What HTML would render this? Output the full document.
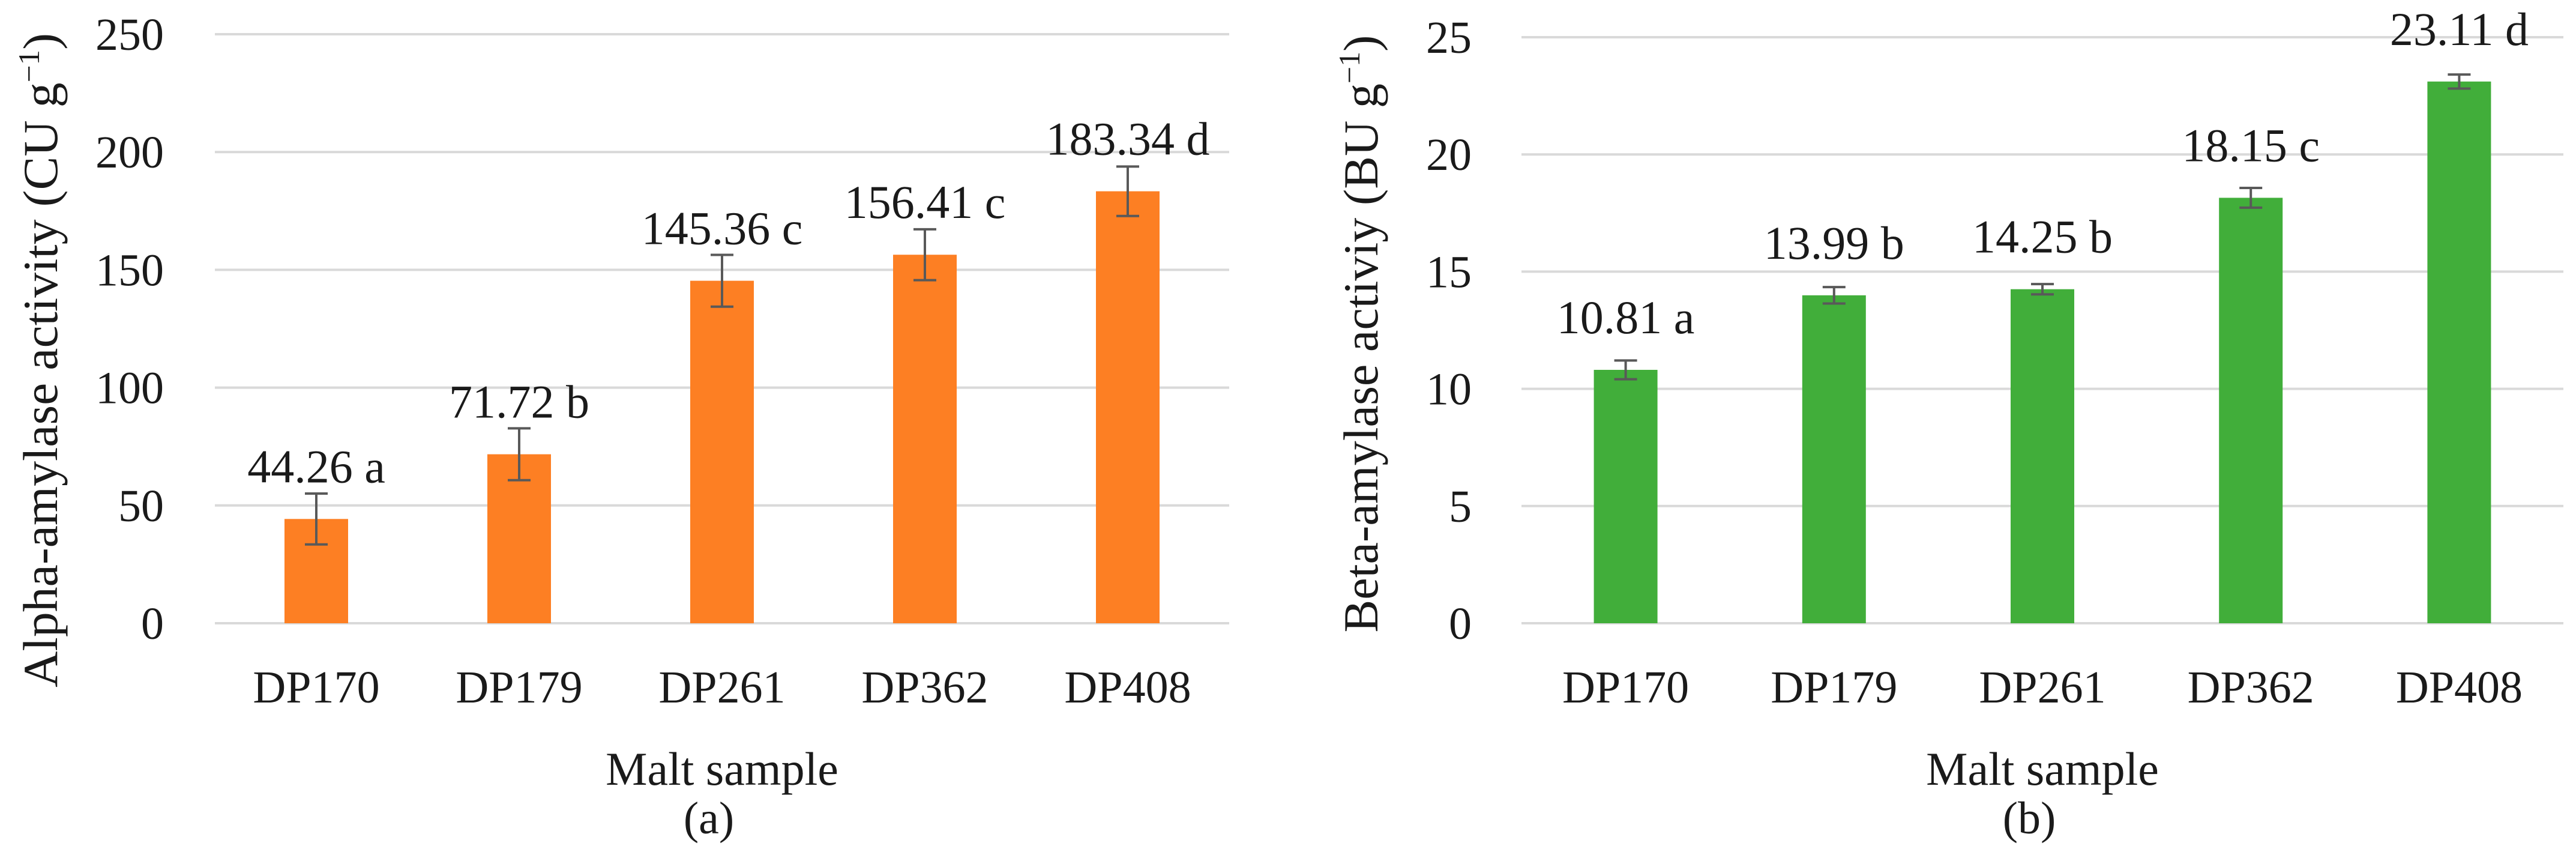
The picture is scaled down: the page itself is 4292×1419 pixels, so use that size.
<!DOCTYPE html>
<html><head><meta charset="utf-8"><style>
html,body{margin:0;padding:0;background:#fff;}
svg{display:block;}
text{font-family:"Liberation Serif","DejaVu Serif",serif;fill:#1a1a1a;}
</style></head><body>
<svg id="chart" width="4292" height="1419" viewBox="0 0 4292 1419" xmlns="http://www.w3.org/2000/svg" font-family="Liberation Serif, DejaVu Serif, serif"></svg>
<script>
const categories = ["DP170","DP179","DP261","DP362","DP408"];
const alphaValues = [44.26, 71.72, 145.36, 156.41, 183.34];
const alphaErrors = [10.8, 11, 11, 10.8, 10.5];
const alphaLetters = ["a","b","c","c","d"];
const alphaTicks = [0,50,100,150,200,250];
const betaValues = [10.81, 13.99, 14.25, 18.15, 23.11];
const betaErrors = [0.4, 0.35, 0.22, 0.42, 0.3];
const betaLetters = ["a","b","b","c","d"];
const betaTicks = [0,5,10,15,20,25];

const NS = "http://www.w3.org/2000/svg";
const svg = document.getElementById('chart');
const FONT = '"Liberation Serif", "DejaVu Serif", serif';
function mk(tag, attrs, parent){
  const e = document.createElementNS(NS, tag);
  for (const k in attrs) e.setAttribute(k, attrs[k]);
  if (tag === 'text') e.style.fontFamily = FONT;
  (parent||svg).appendChild(e);
  return e;
}

function drawPanel(cfg){
  const g = mk('g', {});
  
  
  const band = (cfg.x1 - cfg.x0) / categories.length;
  const yScale = v => cfg.y0 - (v - cfg.min) / (cfg.max - cfg.min) * (cfg.y0 - cfg.yTop);
  const xCenter = i => cfg.x0 + band * (i + 0.5);

  cfg.ticks.forEach(t => {
    const gl = mk('line', {x1:cfg.x0, x2:cfg.x1, y1:yScale(t), y2:yScale(t), stroke:'#d9d9d9', 'stroke-width':4}, g);
    
    
    const tl = mk('text', {x:cfg.tickX, y:yScale(t)+26, 'text-anchor':'end', 'font-size':76}, g);
    tl.textContent = t;
    
    
  });

  cfg.values.forEach((v, i) => {
    const cx = xCenter(i);
    const bw = 106;
    const top = yScale(v);
    const bar = mk('rect', {x:cx-bw/2, y:top, width:bw, height:yScale(cfg.min)-top, fill:cfg.color}, g);
    
    
    const eHi = yScale(v + cfg.errors[i]), eLo = yScale(v - cfg.errors[i]);
    const eb = mk('g', {stroke:'#595959', 'stroke-width':4}, g);
    
    
    mk('line', {x1:cx, x2:cx, y1:eHi, y2:eLo}, eb);
    mk('line', {x1:cx-19, x2:cx+19, y1:eHi, y2:eHi}, eb);
    mk('line', {x1:cx-19, x2:cx+19, y1:eLo, y2:eLo}, eb);
    const lbl = mk('text', {x:cx, y:top-61, 'text-anchor':'middle', 'font-size':78}, g);
    lbl.textContent = v.toFixed(2) + ' ' + cfg.letters[i];
    
    
    const xl = mk('text', {x:cx, y:1170, 'text-anchor':'middle', 'font-size':76}, g);
    xl.textContent = categories[i];
    
    
  });

  const xt = mk('text', {x:(cfg.x0+cfg.x1)/2, y:1307, 'text-anchor':'middle', 'font-size':78}, g);
  xt.textContent = 'Malt sample';
  
  
  const pl = mk('text', {x:(cfg.x0+cfg.x1)/2 - 22, y:1388, 'text-anchor':'middle', 'font-size':76}, g);
  pl.textContent = cfg.panel;
  
  

  const yt = mk('text', {x:0, y:0, 'text-anchor':'middle', 'font-size':82, textLength:cfg.titleLen, lengthAdjust:'spacingAndGlyphs',
    transform:'translate(' + cfg.titleX + ',' + cfg.titleY + ') rotate(-90)'}, g);
  
  
  yt.appendChild(document.createTextNode(cfg.title + ' g'));
  const sup = mk('tspan', {dy:-30, 'font-size':50}, yt);
  sup.textContent = '\u22121';
  const cl = mk('tspan', {dy:30}, yt);
  cl.textContent = ')';
}

drawPanel({name:'alpha-amylase-chart', x0:358, x1:2048, yTop:57, y0:1038, min:0, max:250,
  ticks:alphaTicks, values:alphaValues, errors:alphaErrors, letters:alphaLetters,
  color:'#fd7f23', tickX:273, titleX:95, titleY:600, titleLen:1090,
  title:'Alpha-amylase activity (CU', panel:'(a)'});
drawPanel({name:'beta-amylase-chart', x0:2535, x1:4271, yTop:62, y0:1038, min:0, max:25,
  ticks:betaTicks, values:betaValues, errors:betaErrors, letters:betaLetters,
  color:'#41ae3a', tickX:2452, titleX:2295, titleY:556, titleLen:995,
  title:'Beta-amylase activiy (BU', panel:'(b)'});
</script>
</body></html>
